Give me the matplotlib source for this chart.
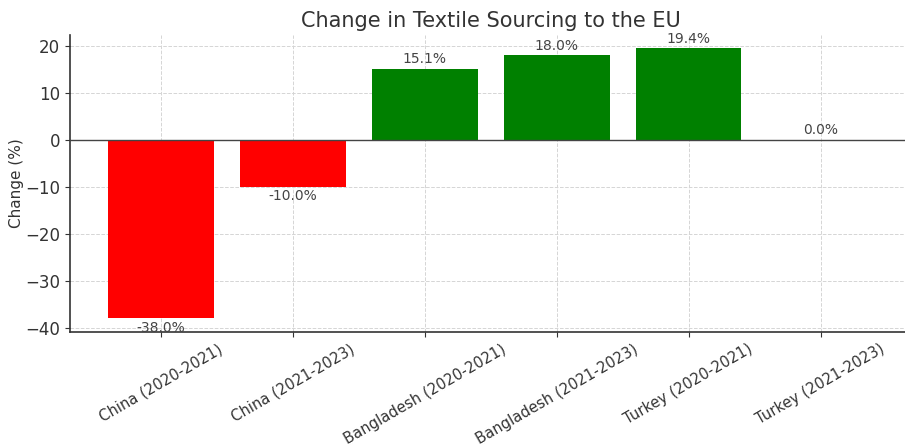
import matplotlib.pyplot as plt
import numpy as np

labels = ["China (2020-2021)", "China (2021-2023)", "Bangladesh (2020-2021)",
          "Bangladesh (2021-2023)", "Turkey (2020-2021)", "Turkey (2021-2023)"]
changes = [-38.0, -10.0, 15.1, 18.0, 19.4, 0.0]

txt = "#333333"
plt.rcParams["text.color"] = txt
plt.rcParams["axes.labelcolor"] = txt
plt.rcParams["xtick.color"] = txt
plt.rcParams["ytick.color"] = txt

fig = plt.figure(figsize=(9.05, 4.47), dpi=100)
ax = fig.add_axes([0.0773, 0.258, 0.930, 0.664])

colors = ["red" if c < 0 else "green" for c in changes]
x = np.arange(len(labels))
bars = ax.bar(x, changes, color=colors, width=0.8, zorder=2)

ax.axhline(0, color="#444444", linewidth=1, zorder=3)

for b, c in zip(bars, changes):
    va = "top" if c < 0 else "bottom"
    off = -1 if c < 0 else 1
    ax.text(b.get_x() + b.get_width() / 2, c + off * 0.5, f"{c:.1f}%",
            ha="center", va=va, fontsize=10, color="#444444", zorder=4)

ax.set_xticks(x)
ax.set_xticklabels(labels, rotation=30, fontsize=10.6)
ax.tick_params(axis="y", labelsize=12)
ax.set_ylabel("Change (%)", fontsize=11, labelpad=1)
ax.set_title("Change in Textile Sourcing to the EU", fontsize=15, color="#333333")

ax.grid(True, linestyle="--", color="#d5d5d5", linewidth=0.7, zorder=0)
ax.set_axisbelow(True)
for s in ["top", "right"]:
    ax.spines[s].set_visible(False)
for s in ["left", "bottom"]:
    ax.spines[s].set_color("#333333")
    ax.spines[s].set_linewidth(1.2)

fig.savefig("out.png", dpi=100)
